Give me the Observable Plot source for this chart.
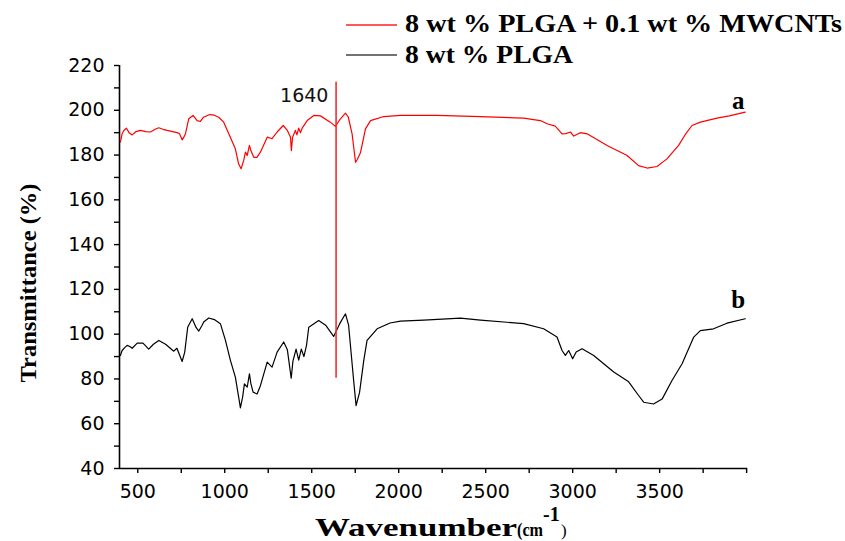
<!DOCTYPE html>
<html><head><meta charset="utf-8">
<script src="https://cdn.jsdelivr.net/npm/d3@7"></script>
<script src="https://cdn.jsdelivr.net/npm/@observablehq/plot@0.6"></script>
<style>body{margin:0;background:#fff} #chart{width:845px;height:541px;position:relative}</style>
</head><body><div id="chart"></div><script>
// Series a: 8 wt % PLGA + 0.1 wt % MWCNTs (red)
const redWn = [400,410,420,435,450,468,490,516,545,573,600,621,645,669,700,726,740,755,765,774,793,818,841,860,878,914,940,965,994,1032,1061,1080,1094,1109,1119,1129,1142,1150,1167,1185,1205,1244,1272,1301,1336,1360,1378,1383,1390,1406,1415,1425,1435,1445,1474,1512,1550,1607,1636,1665,1694,1710,1732,1752,1762,1780,1809,1838,1914,2010,2221,2470,2718,2814,2853,2900,2939,2960,2987,3006,3044,3083,3198,3313,3379,3428,3485,3542,3609,3650,3686,3734,3830,3900,3992];
const redT  = [185.8,189.5,191,192,190,189,190.5,191,190.5,190.3,191.5,192.2,191.5,191,190.5,190,189.5,186.8,188,189.5,196.2,197.7,195.4,195,196.9,198.1,197.8,196.9,194.7,188,182.8,176,173.9,177.6,181.3,179.8,184.3,182,179,179,181.3,188,187.3,190.3,193.2,191,188,182,188,191,189,192,190,192,195.4,197.7,197.5,194.7,192.8,196.2,198.7,197,189.5,176.8,178,181,191.7,195.4,197.2,197.7,197.7,197.2,196.5,195.4,194,192.9,189.5,189.6,190.3,188.5,190,189.5,184.3,179.8,175.3,174.2,174.9,178.3,184.3,189.5,193.2,194.7,196.5,197.5,199.2];
// Series b: 8 wt % PLGA (black)
const blackWn = [400,410,425,439,455,468,497,530,563,590,621,660,707,725,755,770,787,813,835,851,870,879,908,940,975,1004,1033,1061,1080,1090,1103,1113,1129,1142,1150,1163,1186,1205,1244,1272,1301,1339,1360,1382,1392,1410,1425,1440,1455,1470,1483,1540,1580,1626,1661,1694,1712,1741,1755,1775,1799,1818,1876,1950,2010,2144,2355,2470,2718,2833,2910,2939,2958,2977,3000,3020,3054,3121,3236,3322,3379,3408,3465,3514,3571,3629,3696,3734,3810,3887,3992];
const blackT  = [90.5,92.7,94,95,94.5,93.7,96,96,93.3,95.5,97.2,95.5,92.4,93.7,87.8,92,103.1,106.9,103,101.4,104,105.4,107.2,106.5,104.7,97.2,88.2,80.8,71.9,67.1,72,77.8,76.3,82.3,78,74.1,73.3,77,87.5,85.3,92,96.5,93,80.3,88,93.3,88.4,93.3,90,95,103.1,106.1,104,99,104.7,109.1,104,79.3,68.1,74,88.2,97.2,102.4,105,105.8,106.3,107.2,106.3,104.7,102.4,98.7,92.7,90.5,92.7,89,92,93.5,90.5,83.1,78.7,72.6,69.6,68.8,71,79.3,86.8,98.7,101.6,102.4,104.9,106.9];

const seriesNames = ["8 wt % PLGA + 0.1 wt % MWCNTs", "8 wt % PLGA"];
const seriesColors = ["#ff0000", "#000000"];
const xTicks = d3.range(500, 4001, 250);
const yTicks = d3.range(40, 221, 10);
const markerWn = [1640];
const markerLabel = ["1640"];
const curveLabels = ["a", "b"];

const red = redWn.map((x, i) => ({x, y: redT[i]}));
const black = blackWn.map((x, i) => ({x, y: blackT[i]}));
const marker = markerWn.map((x, i) => ({x, y1: 80.3, y2: 212.5, tx: x - 44, ty: 203.5, label: markerLabel[i]}));
const curveText = curveLabels.map((t, i) => ({t, x: 3952, y: [200.6, 111.9][i]}));

const plot = Plot.plot({
  width: 845, height: 541,
  marginLeft: 119, marginRight: 98, marginTop: 65, marginBottom: 73,
  x: {domain: [395, 4005]},
  y: {domain: [40, 220]},
  style: {fontFamily: "DejaVu Sans", fontSize: "19px", color: "#000", background: "#fff"},
  marks: [
    Plot.axisX({ticks: xTicks, tickFormat: d => (d % 500 === 0 && d <= 3500) ? String(d) : "", tickSize: 5, tickPadding: 11, label: null, strokeWidth: 1.4}),
    Plot.axisY({ticks: yTicks, tickFormat: d => d % 20 === 0 ? String(d) : "", tickSize: 5, tickPadding: 10, label: null, strokeWidth: 1.4}),
    Plot.ruleX([395], {strokeWidth: 1.6}),
    Plot.ruleY([40], {strokeWidth: 1.6}),
    Plot.line(red, {x: "x", y: "y", stroke: seriesColors[0], strokeWidth: 1.2}),
    Plot.line(black, {x: "x", y: "y", stroke: seriesColors[1], strokeWidth: 1.2}),
    Plot.ruleX(marker, {x: "x", y1: "y1", y2: "y2", stroke: "#f03030", strokeWidth: 1.6}),
    Plot.text(marker, {x: "tx", y: "ty", text: "label", textAnchor: "end", lineAnchor: "bottom", fontSize: 19, fill: "#111"}),
    Plot.text(curveText, {x: "x", y: "y", text: "t", lineAnchor: "bottom", fontFamily: "Liberation Serif", fontWeight: "bold", fontSize: 25, fill: "#000"})
  ]
});
document.getElementById("chart").appendChild(plot);

const svg = d3.select(plot);
const g = svg.append("g").attr("font-family", "Liberation Serif").attr("font-weight", "bold")
  .attr("fill", "#000").attr("text-anchor", "start");
// legend
const legY = [25, 55], legBase = [32, 63], legLen = [437, 168];
seriesNames.forEach((n, i) => {
  g.append("line").attr("x1", 346).attr("x2", 397).attr("y1", legY[i]).attr("y2", legY[i])
    .attr("stroke", i === 0 ? "#ff2020" : "#444").attr("stroke-width", 1.6);
  g.append("text").attr("x", 405).attr("y", legBase[i]).attr("font-size", 25).attr("text-anchor", "start")
    .attr("textLength", legLen[i]).attr("lengthAdjust", "spacingAndGlyphs").text(n);
});
// y title
g.append("text").attr("transform", "translate(36,283) rotate(-90)").attr("text-anchor", "middle")
  .attr("font-size", 24).attr("textLength", 199).attr("lengthAdjust", "spacingAndGlyphs").text("Transmittance (%)");
// x title
g.append("text").attr("x", 315).attr("y", 536).attr("font-size", 25).attr("text-anchor", "start")
  .attr("textLength", 202).attr("lengthAdjust", "spacingAndGlyphs").text("Wavenumber");
g.append("text").attr("x", 517).attr("y", 536).attr("font-size", 19).attr("text-anchor", "start")
  .attr("textLength", 26).attr("lengthAdjust", "spacingAndGlyphs").text("(cm");
g.append("text").attr("x", 543).attr("y", 521).attr("font-size", 20).attr("text-anchor", "start").text("-1");
g.append("text").attr("x", 561).attr("y", 536).attr("font-size", 17).attr("font-weight", "normal").attr("text-anchor", "start").text(")");
</script></body></html>
